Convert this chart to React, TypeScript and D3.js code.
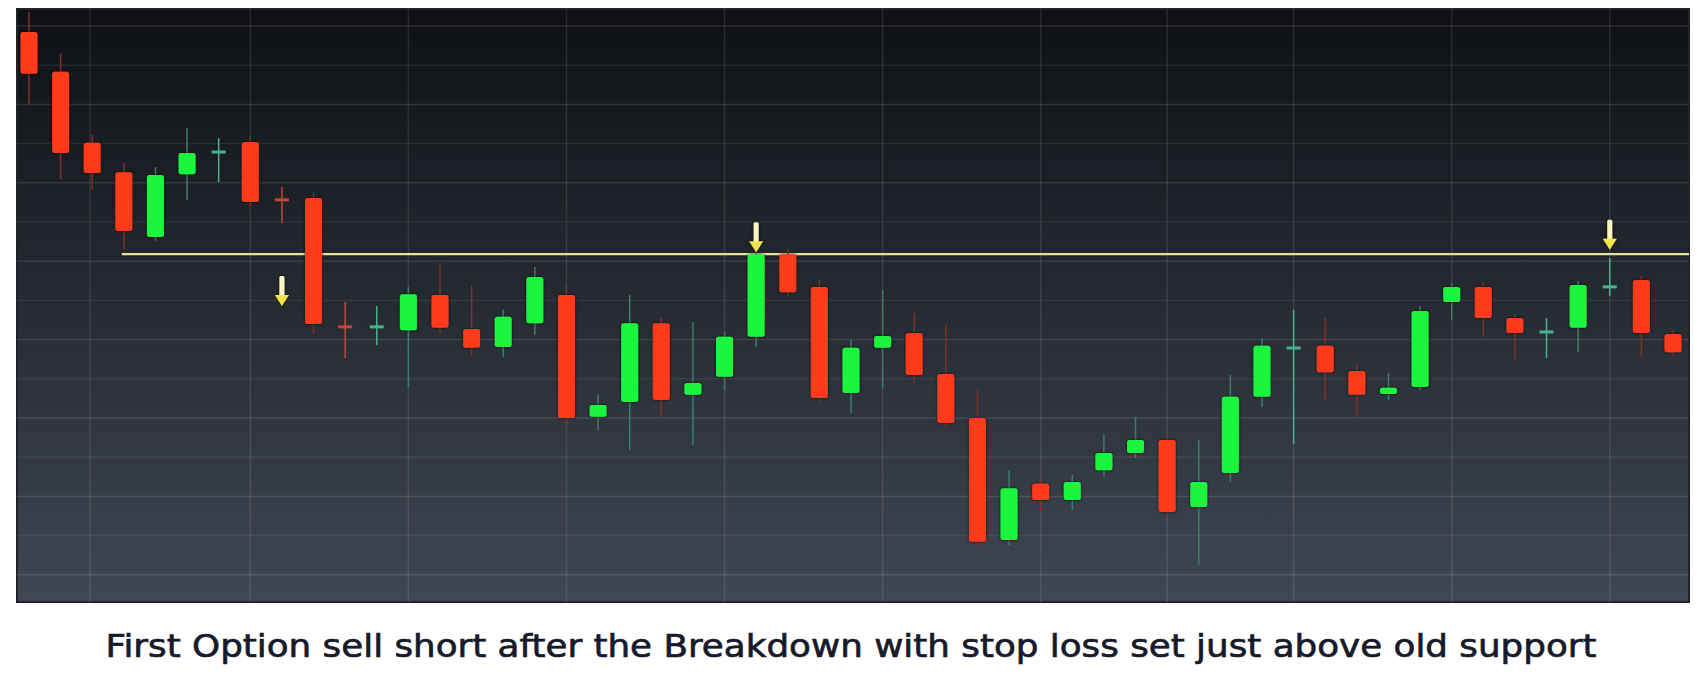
import React from "react";
import * as d3 from "d3";

// ---- data ----
const opens = [113.85,112.83,111.02,110.27,108.62,110.22,110.76,111.04,109.59,109.61,106.35,106.30,106.24,107.14,106.27,105.81,106.42,107.14,104.03,104.41,106.42,104.59,105.05,106.07,108.18,107.34,104.64,105.79,106.17,105.12,104.00,100.89,102.32,101.91,102.67,103.11,103.44,101.73,102.60,104.54,105.76,105.84,105.20,104.61,104.79,106.96,107.34,106.55,106.17,106.30,107.32,107.52,106.14];
const closes = [112.78,110.76,110.25,108.77,110.20,110.76,110.81,109.51,109.54,106.40,106.30,106.35,107.16,106.30,105.79,106.58,107.60,104.00,104.33,106.42,104.46,104.89,106.07,108.18,107.21,104.51,105.79,106.09,105.10,103.87,100.84,102.21,101.91,102.37,103.11,103.44,101.60,102.37,104.54,105.84,105.81,105.17,104.59,104.77,106.73,107.34,106.55,106.17,106.22,107.39,107.37,106.17,105.68];
const highs = [114.36,113.31,111.22,110.51,110.40,111.40,111.14,111.19,109.89,109.74,106.96,106.86,107.34,107.95,107.39,106.76,107.85,107.39,104.59,107.14,106.55,106.45,106.19,108.23,108.31,107.52,105.99,107.27,106.68,106.37,104.71,102.67,102.47,102.55,103.57,104.03,103.54,103.44,105.10,106.04,106.76,106.55,105.35,105.15,106.86,107.44,107.47,106.65,106.55,107.49,108.08,107.62,106.24];
const lows = [111.98,110.10,109.82,108.31,108.52,109.56,110.02,109.41,108.97,106.14,105.53,105.86,104.79,106.17,105.58,105.56,106.12,103.90,103.69,103.18,104.00,103.31,104.71,105.81,107.11,104.41,104.13,104.77,104.89,103.77,100.76,100.76,101.60,101.65,102.50,102.98,101.50,100.25,102.37,104.28,103.34,104.46,104.03,104.46,104.71,106.50,106.07,105.48,105.53,105.68,107.11,105.56,105.58];

const supportLevel = 108.18;
const supportStartIndex = 3;
const verticalGridIndex = [1.93, 7, 12, 17, 22, 27, 32, 36, 40, 45, 50];
const arrowIndex = [8, 23, 50];
const arrowTip = [106.86, 108.23, 108.29];
const caption = "First Option sell short after the Breakdown with stop loss set just above old support";

// ---- layout ----
const W = 1705, H = 689;
const panel = { left: 17, top: 9, right: 1689, bottom: 602 };

export default function App() {
  const x = d3.scaleLinear().domain([0, opens.length - 1]).range([29, 1673]);
  const y = d3.scaleLinear().domain([100, 114]).range([574.8, 26]);
  const hTicks = y.ticks(14);
  const bodyW = 17;

  const candles = opens.map((o, i) => ({ i, o, c: closes[i], h: highs[i], l: lows[i] }));

  return (
    <div style={{ position: "absolute", left: 0, top: 0 }}>
      <svg width={W} height={H} style={{ display: "block", background: "#ffffff" }}>
        <defs>
          <linearGradient id="bg" x1="0" y1="0" x2="0" y2="1">
            <stop offset="0" stopColor="#0e1014" />
            <stop offset="0.5" stopColor="#262b33" />
            <stop offset="1" stopColor="#404753" />
          </linearGradient>
          <filter id="halo" x="-50%" y="-50%" width="200%" height="200%">
            <feDropShadow dx="0" dy="0" stdDeviation="1.6" floodColor="#000" floodOpacity="0.8" />
          </filter>
          <filter id="aglow" x="-100%" y="-50%" width="300%" height="200%">
            <feDropShadow dx="0" dy="0" stdDeviation="2" floodColor="#000" floodOpacity="0.7" />
          </filter>
        </defs>
        <rect x={panel.left - 1} y={panel.top - 1} width={panel.right - panel.left + 2} height={panel.bottom - panel.top + 2} fill="#b9bcc0" />
        <rect x={panel.left} y={panel.top} width={panel.right - panel.left} height={panel.bottom - panel.top} fill="url(#bg)" stroke="#1f2227" strokeWidth={2} />
        {/* grid */}
        <g>
          {hTicks.map((t) => (
            <line key={"h" + t} x1={panel.left} x2={panel.right} y1={y(t)} y2={y(t)} stroke="#ffffff" strokeOpacity={t % 2 === 0 ? 0.11 : 0.07} strokeWidth={1.5} />
          ))}
          {verticalGridIndex.map((g) => (
            <line key={"v" + g} x1={x(g)} x2={x(g)} y1={panel.top} y2={panel.bottom} stroke="#ffffff" strokeOpacity={0.1} strokeWidth={1.5} />
          ))}
        </g>
        {/* support line */}
        <line x1={x(supportStartIndex) - 2} x2={panel.right} y1={y(supportLevel)} y2={y(supportLevel)} stroke="#e4e2a2" strokeWidth={2.2} />
        {/* candles */}
        <g>
          {candles.map((d) => {
            const up = d.c >= d.o;
            const doji = Math.abs(d.c - d.o) < 0.1;
            const cx = x(d.i);
            const top = y(Math.max(d.o, d.c));
            const bot = y(Math.min(d.o, d.c));
            const wickCol = up ? "#3a8066" : "#82302a";
            const bodyCol = up ? "#1bf53e" : "#ff3a1c";
            const dojiCol = up ? "#46b48a" : "#c2473a";
            return (
              <g key={d.i}>
                <line x1={cx} x2={cx} y1={y(d.h)} y2={y(d.l)} stroke={doji ? dojiCol : wickCol} strokeWidth={1.5} />
                {doji ? (
                  <rect x={cx - 7} y={(top + bot) / 2 - 1.5} width={14} height={3} fill={dojiCol} />
                ) : (
                  <rect x={cx - bodyW / 2} y={top} width={bodyW} height={Math.max(bot - top, 3)} rx={2.5} fill={bodyCol} filter="url(#halo)" />
                )}
              </g>
            );
          })}
        </g>
        {/* arrows */}
        <g filter="url(#aglow)">
          {arrowIndex.map((ai, k) => {
            const cx = x(ai);
            const tip = y(arrowTip[k]);
            return (
              <g key={"a" + k}>
                <rect x={cx - 2.5} y={tip - 30} width={5} height={20} rx={1.5} fill="#fbf6c2" />
                <path d={`M${cx - 7},${tip - 11} L${cx + 7},${tip - 11} L${cx},${tip} Z`} fill="#f3e54a" />
              </g>
            );
          })}
        </g>
        {/* caption */}
        <text x={851} y={657} textAnchor="middle" fontFamily="'DejaVu Sans', sans-serif" fontSize={32} fill="#171a2a" stroke="#171a2a" strokeWidth={0.7} textLength={1491} lengthAdjust="spacingAndGlyphs">
          {caption}
        </text>
      </svg>
    </div>
  );
}
